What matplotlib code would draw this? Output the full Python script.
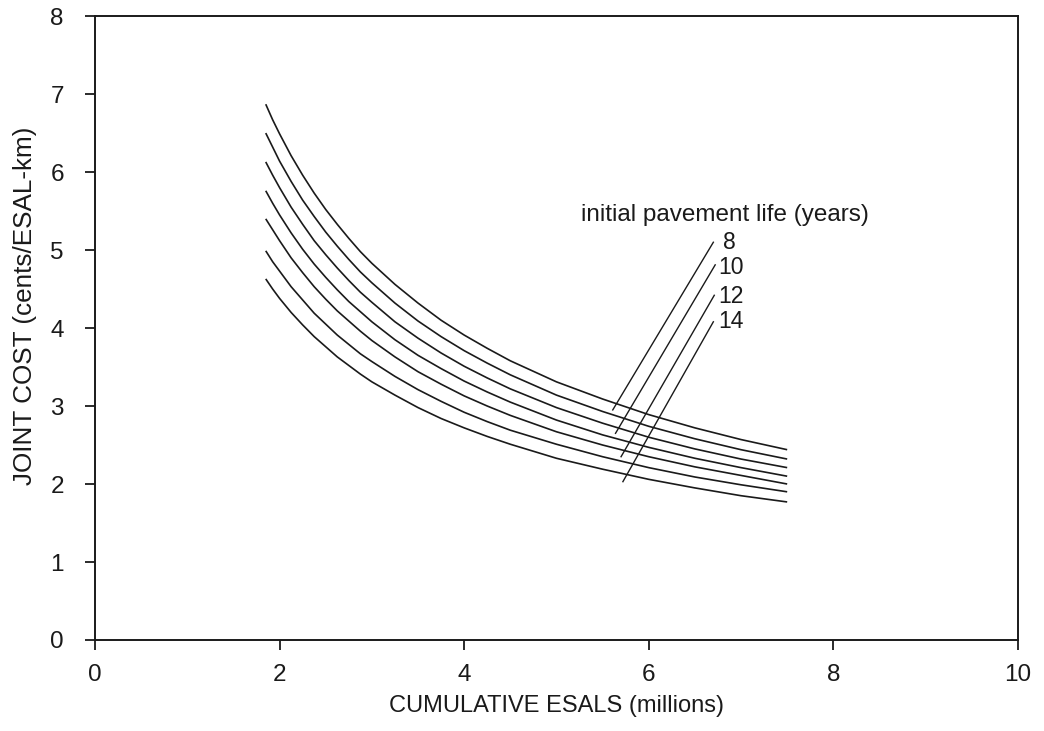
import matplotlib
matplotlib.use("Agg")
import matplotlib.pyplot as plt

plt.rcParams['font.family'] = ['Liberation Sans', 'DejaVu Sans']

# cumulative ESALs (millions)
esals = [1.85, 1.925, 2.0, 2.125, 2.25, 2.375, 2.5, 2.625, 2.75, 2.875, 3.0, 3.25,
         3.5, 3.75, 4.0, 4.25, 4.5, 5.0, 5.5, 6.0, 6.5, 7.0, 7.5]

# joint cost (cents/ESAL-km), one curve per initial pavement life 8..14 years
cost_8 = [6.87, 6.67, 6.49, 6.21, 5.96, 5.73, 5.52, 5.33, 5.15, 4.98, 4.83, 4.56,
          4.32, 4.10, 3.91, 3.74, 3.58, 3.31, 3.09, 2.89, 2.72, 2.57, 2.44]
cost_9 = [6.50, 6.32, 6.14, 5.88, 5.64, 5.43, 5.23, 5.05, 4.88, 4.72, 4.58, 4.32,
          4.09, 3.89, 3.71, 3.55, 3.40, 3.14, 2.93, 2.74, 2.58, 2.44, 2.32]
cost_10 = [6.13, 5.96, 5.80, 5.55, 5.33, 5.12, 4.94, 4.77, 4.61, 4.46, 4.33, 4.08,
           3.87, 3.68, 3.51, 3.36, 3.22, 2.98, 2.78, 2.60, 2.45, 2.32, 2.21]
cost_11 = [5.76, 5.60, 5.45, 5.22, 5.01, 4.82, 4.65, 4.49, 4.34, 4.21, 4.08, 3.85,
           3.65, 3.48, 3.32, 3.18, 3.05, 2.82, 2.63, 2.47, 2.33, 2.21, 2.10]
cost_12 = [5.40, 5.26, 5.12, 4.90, 4.71, 4.53, 4.37, 4.22, 4.09, 3.96, 3.84, 3.63,
           3.44, 3.28, 3.13, 3.00, 2.88, 2.67, 2.50, 2.35, 2.22, 2.11, 2.00]
cost_13 = [4.99, 4.85, 4.73, 4.53, 4.36, 4.19, 4.05, 3.91, 3.79, 3.67, 3.57, 3.38,
           3.21, 3.06, 2.92, 2.80, 2.69, 2.51, 2.35, 2.21, 2.09, 1.99, 1.90]
cost_14 = [4.63, 4.50, 4.38, 4.20, 4.04, 3.89, 3.76, 3.63, 3.52, 3.41, 3.31, 3.14,
           2.98, 2.84, 2.72, 2.61, 2.51, 2.33, 2.19, 2.06, 1.95, 1.85, 1.77]

curves = [cost_8, cost_9, cost_10, cost_11, cost_12, cost_13, cost_14]

# labelled curves and their leader lines (start on curve -> end near label)
life_labels = ['8', '10', '12', '14']
leader_x0 = [5.61, 5.64, 5.70, 5.72]
leader_y0 = [2.95, 2.65, 2.35, 2.03]
leader_x1 = [6.70, 6.72, 6.71, 6.70]
leader_y1 = [5.10, 4.81, 4.42, 4.08]
label_x = [6.80, 6.75, 6.75, 6.75]
label_y = [5.10, 4.77, 4.41, 4.09]

ink = '#1a1a1a'

fig = plt.figure(figsize=(10.44, 7.31), dpi=100)
ax = fig.add_axes([0.091, 0.1245, 0.884, 0.8535])

for c in curves:
    ax.plot(esals, c, color=ink, lw=1.2, solid_capstyle='butt', solid_joinstyle='round')

for i in range(len(life_labels)):
    ax.plot([leader_x0[i], leader_x1[i]], [leader_y0[i], leader_y1[i]], color=ink, lw=1.0)
    ax.text(label_x[i], label_y[i], life_labels[i], fontsize=16.5, color=ink,
            ha='left', va='center')

ax.text(5.27, 5.45, 'initial pavement life (years)', fontsize=17.5, color=ink,
        ha='left', va='center')

ax.set_xlim(0, 10)
ax.set_ylim(0, 8)
ax.set_xticks([0, 2, 4, 6, 8, 10])
ax.set_yticks(range(0, 9))
ax.tick_params(axis='both', direction='out', length=7.5, width=1.3, colors=ink,
               labelsize=17.5)
ax.tick_params(axis='y', pad=15)
ax.tick_params(axis='x', pad=10)
for s in ax.spines.values():
    s.set_linewidth(1.4)
    s.set_color(ink)

ax.set_xlabel('CUMULATIVE ESALS (millions)', fontsize=17, color=ink, labelpad=6)
ax.set_ylabel('JOINT COST (cents/ESAL-km)', fontsize=18.8, color=ink)
ax.yaxis.set_label_coords(-0.063, 0.535)

fig.savefig('out.png', dpi=100)
